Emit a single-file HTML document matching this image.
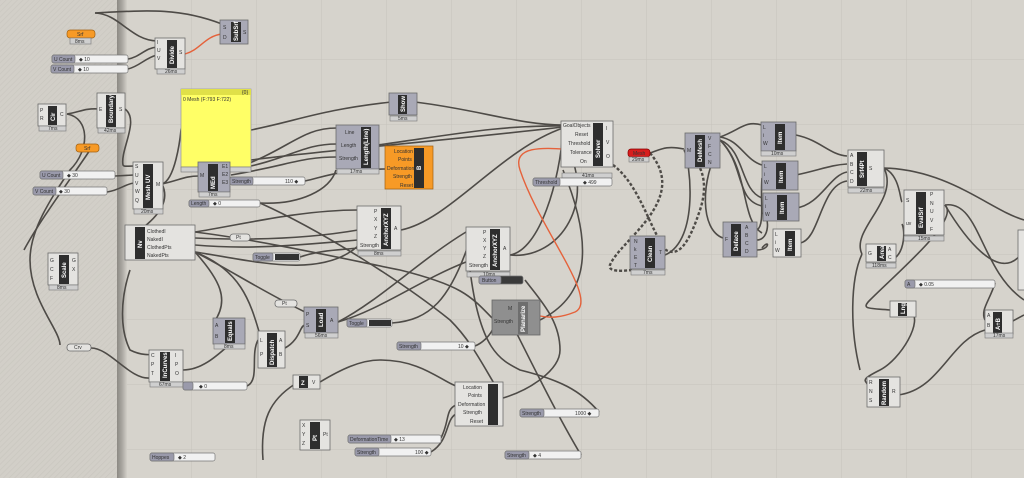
<!DOCTYPE html>
<html><head><meta charset="utf-8"><style>
html,body{margin:0;padding:0;width:1024px;height:478px;overflow:hidden;background:#d6d3cc}
svg{display:block}
text{font-family:"Liberation Sans",sans-serif}
.w{fill:none;stroke:#4e4b47;stroke-width:1.6}
.b{fill:#e4e3e0;stroke:#6b6b6b;stroke-width:.8}
.g{fill:#a9a9b6;stroke:#6b6b6b;stroke-width:.8}
.d{fill:#2e2e2e}
.f{fill:#cfcfcf;stroke:#777;stroke-width:.6}
.t{font-size:5px;fill:#333}
.n{font-size:6px;fill:#fff;font-weight:bold}
.s{fill:#f1f1f1;stroke:#777;stroke-width:.7}
.sl{fill:#9a9aab;stroke:#777;stroke-width:.7}
</style></head><body>
<svg width="1024" height="478" viewBox="0 0 1024 478" xmlns="http://www.w3.org/2000/svg">
<defs>
<pattern id="grid" width="65" height="65" patternUnits="userSpaceOnUse" x="62" y="-5">
<path d="M65 0V65M0 65H65" fill="none" stroke="#c6c3bc" stroke-width="1"/></pattern>
<pattern id="hatch" width="4" height="4" patternUnits="userSpaceOnUse" patternTransform="rotate(45)">
<rect width="4" height="4" fill="#d2cfc8"/><path d="M0 0V4" stroke="#cac7c0" stroke-width="1.5"/></pattern>
<linearGradient id="sh" x1="0" x2="1"><stop offset="0" stop-color="#8c8983"/><stop offset=".5" stop-color="#a9a6a0"/><stop offset="1" stop-color="#d2cfc8"/></linearGradient>
</defs>
<rect width="1024" height="478" fill="url(#grid)"/>
<rect width="119" height="478" fill="url(#hatch)"/>
<rect x="117" width="10" height="478" fill="url(#sh)"/>

<!-- wires -->
<g class="w">
<path d="M95 13C150 10 180 8 222 24"/>
<path d="M95 13C120 14 130 40 157 41"/>
<path d="M128 59C140 57 145 48 157 47"/>
<path d="M128 69C140 66 145 58 157 55"/>
<path d="M67 114C80 112 85 108 99 109"/>
<path d="M67 114C90 118 90 150 70 170C50 200 30 230 30 260C30 300 60 330 60 345"/>
<path d="M125 109C140 120 120 150 123 165C124 167 127 166 134 166"/>
<path d="M115 176L134 175"/>
<path d="M107 192C120 190 125 184 134 183"/>
<path d="M90 150C70 180 40 220 24 250"/>
<path d="M162 184C175 180 180 140 181 130C182 125 185 126 187 126"/>
<path d="M162 184C180 180 185 176 199 176"/>
<path d="M162 184C170 200 160 215 140 230"/>
<path d="M251 130C300 120 320 110 391 102"/>
<path d="M415 102C480 110 520 125 563 125"/>
<path d="M231 170C290 150 300 128 337 128"/>
<path d="M231 170C290 160 300 144 337 144"/>
<path d="M231 175C290 165 300 157 337 157"/>
<path d="M378 145C450 135 500 125 563 126"/>
<path d="M251 160C330 150 450 140 563 127"/>
<path d="M305 181C330 175 340 170 385 169"/>
<path d="M260 203C300 205 330 190 336 170"/>
<path d="M260 203C320 230 400 280 450 320C470 340 480 360 495 385"/>
<path d="M195 232C240 225 300 210 358 210"/>
<path d="M195 238C240 240 300 240 358 230"/>
<path d="M195 245C250 250 300 245 358 240"/>
<path d="M195 252C250 260 320 280 358 246"/>
<path d="M300 257C320 250 340 250 358 248"/>
<path d="M401 230C450 220 500 150 563 128"/>
<path d="M510 255C540 250 560 180 563 130"/>
<path d="M510 255C560 260 600 200 563 140"/>
<path d="M195 232C260 240 350 260 400 270C460 285 470 295 492 318"/>
<path d="M195 252C240 270 250 300 260 335"/>
<path d="M195 252C220 280 230 300 214 322"/>
<path d="M195 252C230 270 260 290 305 312"/>
<path d="M338 322C380 300 420 260 466 232"/>
<path d="M338 322C380 310 420 280 466 262"/>
<path d="M392 323C430 320 450 300 470 240"/>
<path d="M475 346C490 340 500 320 492 318"/>
<path d="M540 320C580 300 600 260 563 170"/>
<path d="M183 355C160 350 150 360 130 350C120 330 120 300 130 270"/>
<path d="M91 348C110 348 130 380 150 378"/>
<path d="M183 370C210 370 230 340 245 333"/>
<path d="M247 386C260 380 250 355 258 340"/>
<path d="M285 348C300 340 300 325 305 325"/>
<path d="M320 382C340 370 360 360 380 360C420 360 440 380 456 386"/>
<path d="M263 460C260 420 270 400 295 384"/>
<path d="M441 438C450 420 445 410 456 405"/>
<path d="M431 452C450 440 445 420 456 414"/>
<path d="M503 398C530 390 560 370 560 350C560 320 540 300 525 280"/>
<path d="M599 412C580 390 560 380 520 370C500 360 480 350 470 270"/>
<path d="M581 455C560 420 540 380 500 300"/>
<path d="M650 153C660 150 665 145 684 149"/>
<path d="M613 165C640 185 650 230 666 250C680 258 690 240 700 210C710 180 700 160 684 150" stroke-dasharray="3 2" stroke-width="2.4"/>
<path d="M650 153C690 200 620 240 610 265C608 270 615 272 632 270" stroke-dasharray="3 2" stroke-width="2.4"/>
<path d="M665 255C700 240 690 160 684 150"/>
<path d="M720 137C740 130 745 120 762 125"/>
<path d="M720 137C740 140 745 160 762 165"/>
<path d="M720 140C745 150 740 190 762 198"/>
<path d="M720 140C750 170 740 220 762 233"/>
<path d="M720 145C700 180 700 230 723 238"/>
<path d="M720 140C745 165 735 200 762 206"/>
<path d="M757 230C765 225 760 200 762 178"/>
<path d="M757 240C770 240 770 215 762 213"/>
<path d="M757 250C770 250 770 238 762 248"/>
<path d="M796 135C820 140 830 155 847 156"/>
<path d="M796 175C820 170 830 165 847 164"/>
<path d="M796 208C820 205 830 175 847 172"/>
<path d="M800 243C820 240 820 185 847 181"/>
<path d="M884 168C900 175 900 200 902 202"/>
<path d="M884 168C950 170 990 210 1024 220"/>
<path d="M884 168C900 200 850 230 862 254"/>
<path d="M895 258C905 250 905 230 902 224"/>
<path d="M945 205C980 200 980 270 1024 300"/>
<path d="M945 205C960 220 900 270 870 300C860 310 870 308 890 310"/>
<path d="M995 283C990 300 980 310 985 320"/>
<path d="M910 310C925 320 900 360 880 370C860 380 865 380 868 385"/>
<path d="M898 395C940 390 950 340 985 330"/>
<path d="M1009 323L1024 315"/>
<path d="M945 205C960 230 1000 290 1024 250"/>
<path d="M862 254C850 280 850 330 860 370"/>
</g>
<path d="M613 150C600 145 590 150 580 150C560 150 510 140 520 170C540 230 600 300 575 312C560 318 550 318 540 316" fill="none" stroke="#e5623b" stroke-width="1.4"/>
<path d="M185 54C200 50 205 36 222 34" fill="none" stroke="#e5623b" stroke-width="1.4"/>

<!-- components -->
<g>
<!-- srf top -->
<rect x="67" y="30" width="28" height="8" rx="3" fill="#f79a26" stroke="#a26010" stroke-width=".7"/><text x="77" y="36" class="t">Srf</text>
<rect x="70" y="38" width="21" height="6" class="f"/><text x="75" y="43" class="t" font-size="4">8ms</text>
<!-- Divide -->
<rect x="155" y="38" width="30" height="31" class="b"/><rect x="167" y="40" width="10" height="28" class="d"/>
<text class="n" transform="translate(174,64)rotate(-90)">Divide</text>
<text x="157" y="44" class="t">I</text><text x="157" y="52" class="t">U</text><text x="157" y="60" class="t">V</text><text x="179" y="54" class="t">S</text>
<rect x="157" y="69" width="28" height="5" class="f"/><text x="165" y="73" class="t" font-size="4">26ms</text>
<!-- SubSrf -->
<rect x="220" y="20" width="28" height="24" class="g"/><rect x="231" y="22" width="10" height="20" class="d"/>
<text class="n" transform="translate(238,41)rotate(-90)">SubSrf</text><text x="223" y="29" class="t">S</text><text x="223" y="39" class="t">D</text><text x="243" y="34" class="t">S</text>
<!-- sliders U/V -->
<rect x="52" y="55" width="76" height="8" rx="2" class="s"/><rect x="52" y="55" width="23" height="8" rx="2" class="sl"/><text x="54" y="61" class="t">U Count</text><text x="79" y="61" class="t">◆ 10</text>
<rect x="51" y="65" width="77" height="8" rx="2" class="s"/><rect x="51" y="65" width="23" height="8" rx="2" class="sl"/><text x="53" y="71" class="t">V Count</text><text x="78" y="71" class="t">◆ 10</text>
<!-- Cir -->
<rect x="38" y="104" width="28" height="22" class="b"/><rect x="48" y="106" width="9" height="19" class="d"/>
<text class="n" transform="translate(55,121)rotate(-90)">Cir</text><text x="40" y="112" class="t">P</text><text x="40" y="120" class="t">R</text><text x="60" y="116" class="t">C</text>
<rect x="39" y="126" width="27" height="5" class="f"/><text x="48" y="130" class="t" font-size="4">7ms</text>
<!-- Boundary -->
<rect x="97" y="93" width="28" height="35" class="b"/><rect x="106" y="95" width="10" height="32" class="d"/>
<text class="n" transform="translate(113,123)rotate(-90)">Boundary</text><text x="99" y="111" class="t">E</text><text x="119" y="111" class="t">S</text>
<rect x="98" y="128" width="27" height="5" class="f"/><text x="104" y="132" class="t" font-size="4">42ms</text>
<!-- Srf 2 -->
<rect x="76" y="144" width="23" height="8" rx="3" fill="#f79a26" stroke="#a26010" stroke-width=".7"/><text x="84" y="150" class="t">Srf</text>
<rect x="40" y="171" width="75" height="8" rx="2" class="s"/><rect x="40" y="171" width="23" height="8" rx="2" class="sl"/><text x="42" y="177" class="t">U Count</text><text x="67" y="177" class="t">◆ 30</text>
<rect x="33" y="187" width="74" height="8" rx="2" class="s"/><rect x="33" y="187" width="23" height="8" rx="2" class="sl"/><text x="35" y="193" class="t">V Count</text><text x="59" y="193" class="t">◆ 30</text>
<!-- Mesh UV -->
<rect x="133" y="162" width="30" height="47" class="b"/><rect x="143" y="164" width="10" height="44" class="d"/>
<text class="n" transform="translate(150,200)rotate(-90)">Mesh UV</text>
<text x="135" y="168" class="t">S</text><text x="135" y="177" class="t">U</text><text x="135" y="185" class="t">V</text><text x="135" y="193" class="t">W</text><text x="135" y="202" class="t">Q</text><text x="156" y="186" class="t">M</text>
<rect x="134" y="209" width="29" height="5" class="f"/><text x="141" y="213" class="t" font-size="4">20ms</text>
<!-- Panel -->
<rect x="181" y="89" width="70" height="78" fill="#ffff66" stroke="#999" stroke-width=".7"/><rect x="181" y="89" width="70" height="6" fill="#e0e048"/>
<text x="242" y="94" class="t" font-size="4">{0}</text><text x="183" y="101" class="t" font-size="4">0 Mesh (F:793 F:722)</text>
<rect x="181" y="167" width="70" height="5" class="f"/>
<!-- Mesh edges -->
<rect x="198" y="162" width="32" height="30" class="g"/><rect x="208" y="164" width="10" height="27" class="d"/>
<text class="n" transform="translate(215,189)rotate(-90)">MEd</text><text x="200" y="177" class="t">M</text><text x="222" y="168" class="t">E1</text><text x="222" y="176" class="t">E2</text><text x="222" y="184" class="t">E3</text>
<rect x="199" y="192" width="31" height="5" class="f"/><text x="208" y="196" class="t" font-size="4">7ms</text>
<rect x="230" y="177" width="75" height="8" rx="2" class="s"/><rect x="230" y="177" width="23" height="8" rx="2" class="sl"/><text x="232" y="183" class="t">Strength</text><text x="285" y="183" class="t">110 ◆</text>
<rect x="189" y="200" width="71" height="7" rx="2" class="s"/><rect x="189" y="200" width="20" height="7" rx="2" class="sl"/><text x="191" y="205" class="t">Length</text><text x="213" y="205" class="t">◆ 0</text>
<!-- Show -->
<rect x="389" y="93" width="28" height="22" class="g"/><rect x="398" y="95" width="9" height="19" class="d"/>
<text class="n" transform="translate(405,112)rotate(-90)">Show</text>
<rect x="390" y="116" width="27" height="5" class="f"/><text x="398" y="120" class="t" font-size="4">5ms</text>
<!-- Length(Line) -->
<rect x="336" y="125" width="43" height="44" class="g"/><rect x="361" y="127" width="10" height="41" class="d"/>
<text class="n" transform="translate(368,165)rotate(-90)">Length(Line)</text>
<text x="345" y="134" class="t">Line</text><text x="341" y="147" class="t">Length</text><text x="339" y="160" class="t">Strength</text>
<rect x="337" y="169" width="42" height="5" class="f"/><text x="350" y="173" class="t" font-size="4">17ms</text>
<!-- orange B -->
<rect x="385" y="146" width="48" height="43" fill="#f79a26" stroke="#a26010" stroke-width=".7"/><rect x="414" y="148" width="10" height="40" class="d"/>
<text class="n" transform="translate(421,170)rotate(-90)">B</text>
<text x="394" y="153" class="t">Location</text><text x="398" y="161" class="t">Points</text><text x="387" y="170" class="t">Deformation</text><text x="393" y="178" class="t">Strength</text><text x="400" y="187" class="t">Reset</text>
<!-- Solver -->
<rect x="561" y="121" width="52" height="46" class="b"/><rect x="593" y="123" width="10" height="43" class="d"/>
<text class="n" transform="translate(600,158)rotate(-90)">Solver</text>
<text x="563" y="127" class="t">GoalObjects</text><text x="575" y="136" class="t">Reset</text><text x="568" y="145" class="t">Threshold</text><text x="570" y="154" class="t">Tolerance</text><text x="580" y="163" class="t">On</text>
<text x="606" y="130" class="t">I</text><text x="606" y="144" class="t">V</text><text x="606" y="158" class="t">O</text>
<rect x="562" y="173" width="50" height="5" class="f"/><text x="582" y="177" class="t" font-size="4">41ms</text>
<rect x="533" y="178" width="79" height="8" rx="2" class="s"/><rect x="533" y="178" width="27" height="8" rx="2" class="sl"/><text x="535" y="184" class="t">Threshold</text><text x="583" y="184" class="t">◆ 499</text>
<!-- red Mesh -->
<rect x="628" y="149" width="22" height="8" rx="3" fill="#d81d1d" stroke="#800" stroke-width=".7"/><text x="633" y="155" class="t" fill="#fdd">Mesh</text>
<rect x="629" y="157" width="20" height="5" class="f"/><text x="632" y="161" class="t" font-size="4">29ms</text>
<!-- Clean -->
<rect x="630" y="236" width="35" height="33" class="g"/><rect x="645" y="238" width="10" height="30" class="d"/>
<text class="n" transform="translate(652,262)rotate(-90)">Clean</text><text x="634" y="243" class="t">N</text><text x="634" y="251" class="t">k</text><text x="634" y="259" class="t">E</text><text x="634" y="267" class="t">T</text><text x="659" y="254" class="t">T</text>
<rect x="631" y="270" width="34" height="5" class="f"/><text x="643" y="274" class="t" font-size="4">7ms</text>
<!-- AnchorXYZ 1 -->
<rect x="357" y="206" width="44" height="44" class="b"/><rect x="381" y="208" width="10" height="41" class="d"/>
<text class="n" transform="translate(388,246)rotate(-90)">AnchorXYZ</text>
<text x="374" y="213" class="t">P</text><text x="374" y="221" class="t">X</text><text x="374" y="230" class="t">Y</text><text x="374" y="238" class="t">Z</text><text x="360" y="247" class="t">Strength</text><text x="394" y="230" class="t">A</text>
<rect x="358" y="251" width="43" height="5" class="f"/><text x="374" y="255" class="t" font-size="4">8ms</text>
<!-- AnchorXYZ 2 -->
<rect x="466" y="227" width="44" height="44" class="b"/><rect x="490" y="229" width="10" height="41" class="d"/>
<text class="n" transform="translate(497,267)rotate(-90)">AnchorXYZ</text>
<text x="483" y="234" class="t">P</text><text x="483" y="242" class="t">X</text><text x="483" y="250" class="t">Y</text><text x="483" y="258" class="t">Z</text><text x="469" y="267" class="t">Strength</text><text x="503" y="250" class="t">A</text>
<rect x="467" y="272" width="43" height="5" class="f"/><text x="483" y="276" class="t" font-size="4">10ms</text>
<rect x="479" y="276" width="44" height="8" rx="2" fill="#3a3a3a" stroke="#777" stroke-width=".7"/><rect x="479" y="276" width="22" height="8" rx="2" class="sl"/><text x="482" y="282" class="t">Button</text>
<!-- Planarize -->
<rect x="492" y="300" width="48" height="35" fill="#8f8f8f" stroke="#666" stroke-width=".8"/><rect x="518" y="302" width="10" height="32" fill="#6e6e6e"/>
<text class="n" transform="translate(525,332)rotate(-90)">Planarize</text><text x="508" y="310" class="t">M</text><text x="494" y="323" class="t">Strength</text>
<!-- Nv -->
<rect x="125" y="225" width="70" height="35" class="b"/><rect x="135" y="227" width="10" height="32" class="d"/>
<text class="n" transform="translate(142,248)rotate(-90)">Nv</text>
<text x="147" y="233" class="t">ClothedI</text><text x="147" y="241" class="t">NakedI</text><text x="147" y="249" class="t">ClothedPts</text><text x="147" y="257" class="t">NakedPts</text>
<rect x="230" y="234" width="20" height="7" rx="3" class="b"/><text x="236" y="239" class="t">Pt</text>
<rect x="253" y="253" width="47" height="8" rx="2" class="s"/><rect x="253" y="253" width="20" height="8" rx="2" class="sl"/><rect x="275" y="254" width="24" height="6" fill="#333"/><text x="255" y="259" class="t">Toggle</text><text x="278" y="259" class="t" fill="#fff">True</text>
<!-- Scale -->
<rect x="48" y="253" width="30" height="32" class="b"/><rect x="59" y="255" width="10" height="29" class="d"/>
<text class="n" transform="translate(66,278)rotate(-90)">Scale</text><text x="50" y="262" class="t">G</text><text x="50" y="271" class="t">C</text><text x="50" y="280" class="t">F</text><text x="72" y="262" class="t">G</text><text x="72" y="271" class="t">X</text>
<rect x="49" y="285" width="29" height="5" class="f"/><text x="57" y="289" class="t" font-size="4">8ms</text>
<rect x="67" y="344" width="24" height="7" rx="3" class="b"/><text x="74" y="349" class="t">Crv</text>
<rect x="275" y="300" width="22" height="7" rx="3" class="b"/><text x="282" y="305" class="t">Pt</text>
<!-- Equals -->
<rect x="213" y="318" width="32" height="26" class="g"/><rect x="225" y="320" width="10" height="23" class="d"/>
<text class="n" transform="translate(232,341)rotate(-90)">Equals</text><text x="215" y="327" class="t">A</text><text x="215" y="338" class="t">B</text>
<rect x="214" y="344" width="31" height="5" class="f"/><text x="224" y="348" class="t" font-size="4">8ms</text>
<!-- Dispatch -->
<rect x="258" y="331" width="27" height="37" class="b"/><rect x="267" y="333" width="10" height="34" class="d"/>
<text class="n" transform="translate(274,365)rotate(-90)">Dispatch</text><text x="260" y="342" class="t">L</text><text x="260" y="356" class="t">P</text><text x="279" y="342" class="t">A</text><text x="279" y="356" class="t">B</text>
<!-- Load -->
<rect x="304" y="307" width="34" height="26" class="g"/><rect x="316" y="309" width="10" height="23" class="d"/>
<text class="n" transform="translate(323,327)rotate(-90)">Load</text><text x="306" y="316" class="t">P</text><text x="306" y="327" class="t">S</text><text x="330" y="322" class="t">A</text>
<rect x="305" y="333" width="33" height="5" class="f"/><text x="315" y="337" class="t" font-size="4">56ms</text>
<rect x="347" y="319" width="45" height="8" rx="2" class="s"/><rect x="347" y="319" width="20" height="8" rx="2" class="sl"/><rect x="369" y="320" width="22" height="6" fill="#333"/><text x="349" y="325" class="t">Toggle</text><text x="372" y="325" class="t" fill="#fff">True</text>
<rect x="397" y="342" width="78" height="8" rx="2" class="s"/><rect x="397" y="342" width="24" height="8" rx="2" class="sl"/><text x="399" y="348" class="t">Strength</text><text x="458" y="348" class="t">10 ◆</text>
<!-- InCurves -->
<rect x="149" y="350" width="34" height="32" class="b"/><rect x="160" y="352" width="10" height="29" class="d"/>
<text class="n" transform="translate(167,378)rotate(-90)">InCurves</text><text x="151" y="357" class="t">C</text><text x="151" y="366" class="t">P</text><text x="151" y="375" class="t">T</text><text x="175" y="357" class="t">I</text><text x="175" y="366" class="t">P</text><text x="175" y="375" class="t">O</text>
<rect x="150" y="382" width="33" height="5" class="f"/><text x="159" y="386" class="t" font-size="4">67ms</text>
<rect x="183" y="382" width="64" height="8" rx="2" class="s"/><rect x="183" y="382" width="10" height="8" rx="2" class="sl"/><text x="199" y="388" class="t">◆ 0</text>
<!-- Z -->
<rect x="293" y="375" width="27" height="14" class="b"/><rect x="299" y="376" width="9" height="12" class="d"/><text class="n" x="301" y="385">Z</text><text x="312" y="384" class="t">V</text>
<!-- Big node -->
<rect x="455" y="382" width="48" height="44" class="b"/><rect x="488" y="384" width="10" height="41" class="d"/>
<text x="463" y="389" class="t">Location</text><text x="468" y="397" class="t">Points</text><text x="458" y="406" class="t">Deformation</text><text x="463" y="414" class="t">Strength</text><text x="470" y="423" class="t">Reset</text>
<rect x="520" y="409" width="79" height="8" rx="2" class="s"/><rect x="520" y="409" width="24" height="8" rx="2" class="sl"/><text x="522" y="415" class="t">Strength</text><text x="575" y="415" class="t">1000 ◆</text>
<!-- Pt -->
<rect x="300" y="420" width="30" height="30" class="b"/><rect x="310" y="422" width="10" height="27" class="d"/><text class="n" transform="translate(317,441)rotate(-90)">Pt</text>
<text x="302" y="427" class="t">X</text><text x="302" y="436" class="t">Y</text><text x="302" y="445" class="t">Z</text><text x="323" y="436" class="t">Pt</text>
<rect x="348" y="435" width="93" height="8" rx="2" class="s"/><rect x="348" y="435" width="43" height="8" rx="2" class="sl"/><text x="350" y="441" class="t">DeformationTime</text><text x="394" y="441" class="t">◆ 13</text>
<rect x="355" y="448" width="76" height="8" rx="2" class="s"/><rect x="355" y="448" width="24" height="8" rx="2" class="sl"/><text x="357" y="454" class="t">Strength</text><text x="415" y="454" class="t">100 ◆</text>
<rect x="150" y="453" width="65" height="8" rx="2" class="s"/><rect x="150" y="453" width="24" height="8" rx="2" class="sl"/><text x="152" y="459" class="t">Hoppes</text><text x="178" y="459" class="t">◆ 2</text>
<rect x="505" y="451" width="76" height="8" rx="2" class="s"/><rect x="505" y="451" width="24" height="8" rx="2" class="sl"/><text x="507" y="457" class="t">Strength</text><text x="533" y="457" class="t">◆ 4</text>
<!-- DeMesh -->
<rect x="685" y="133" width="35" height="35" class="g"/><rect x="695" y="135" width="10" height="32" class="d"/>
<text class="n" transform="translate(702,162)rotate(-90)">DeMesh</text><text x="687" y="152" class="t">M</text><text x="708" y="140" class="t">V</text><text x="708" y="148" class="t">F</text><text x="708" y="156" class="t">C</text><text x="708" y="164" class="t">N</text>
<!-- Items -->
<g>
<rect x="761" y="122" width="35" height="29" class="g"/><rect x="775" y="124" width="10" height="26" class="d"/><text class="n" transform="translate(782,144)rotate(-90)">Item</text><text x="763" y="129" class="t">L</text><text x="763" y="137" class="t">i</text><text x="763" y="145" class="t">W</text>
<rect x="761" y="151" width="35" height="5" class="f"/><text x="771" y="155" class="t" font-size="4">10ms</text>
<rect x="762" y="161" width="36" height="29" class="g"/><rect x="776" y="163" width="10" height="26" class="d"/><text class="n" transform="translate(783,183)rotate(-90)">Item</text><text x="764" y="168" class="t">L</text><text x="764" y="176" class="t">i</text><text x="764" y="184" class="t">W</text>
<rect x="763" y="193" width="36" height="28" class="g"/><rect x="777" y="195" width="10" height="25" class="d"/><text class="n" transform="translate(784,214)rotate(-90)">Item</text><text x="765" y="200" class="t">L</text><text x="765" y="208" class="t">i</text><text x="765" y="216" class="t">W</text>
<rect x="773" y="229" width="28" height="28" class="b"/><rect x="785" y="231" width="10" height="25" class="d"/><text class="n" transform="translate(792,251)rotate(-90)">Item</text><text x="775" y="236" class="t">L</text><text x="775" y="244" class="t">i</text><text x="775" y="252" class="t">W</text>
</g>
<!-- Deface -->
<rect x="723" y="222" width="34" height="35" class="g"/><rect x="731" y="224" width="10" height="32" class="d"/>
<text class="n" transform="translate(738,251)rotate(-90)">Deface</text><text x="725" y="241" class="t">F</text><text x="745" y="229" class="t">A</text><text x="745" y="237" class="t">B</text><text x="745" y="245" class="t">C</text><text x="745" y="253" class="t">D</text>
<!-- SrfPt -->
<rect x="848" y="150" width="36" height="37" class="b"/><rect x="857" y="152" width="10" height="34" class="d"/>
<text class="n" transform="translate(864,178)rotate(-90)">Srf4Pt</text><text x="850" y="157" class="t">A</text><text x="850" y="166" class="t">B</text><text x="850" y="174" class="t">C</text><text x="850" y="183" class="t">D</text><text x="869" y="170" class="t">S</text>
<rect x="848" y="188" width="36" height="5" class="f"/><text x="860" y="192" class="t" font-size="4">22ms</text>
<!-- EvalSrf -->
<rect x="904" y="190" width="40" height="45" class="b"/><rect x="916" y="192" width="10" height="42" class="d"/>
<text class="n" transform="translate(923,228)rotate(-90)">EvalSrf</text><text x="906" y="202" class="t">S</text><text x="906" y="225" class="t">uv</text><text x="930" y="196" class="t">P</text><text x="930" y="205" class="t">N</text><text x="930" y="213" class="t">U</text><text x="930" y="222" class="t">V</text><text x="930" y="231" class="t">F</text>
<rect x="904" y="236" width="40" height="5" class="f"/><text x="918" y="240" class="t" font-size="4">15ms</text>
<!-- Area -->
<rect x="866" y="244" width="30" height="18" class="b"/><rect x="877" y="246" width="9" height="15" class="d"/><text class="n" transform="translate(884,259)rotate(-90)">Area</text><text x="868" y="255" class="t">G</text><text x="888" y="251" class="t">A</text><text x="888" y="259" class="t">C</text>
<rect x="866" y="263" width="30" height="5" class="f"/><text x="872" y="267" class="t" font-size="4">118ms</text>
<!-- slider -->
<rect x="905" y="280" width="90" height="8" rx="2" class="s"/><rect x="905" y="280" width="10" height="8" rx="2" class="sl"/><text x="907" y="286" class="t">A</text><text x="919" y="286" class="t">◆ 0.05</text>
<!-- Lng -->
<rect x="890" y="301" width="26" height="16" class="b"/><rect x="898" y="303" width="9" height="13" class="d"/><text class="n" transform="translate(905,314)rotate(-90)">Lng</text>
<!-- A/B -->
<rect x="985" y="310" width="28" height="24" class="b"/><rect x="993" y="312" width="9" height="21" class="d"/><text class="n" transform="translate(1000,330)rotate(-90)">A÷B</text><text x="987" y="317" class="t">A</text><text x="987" y="327" class="t">B</text>
<rect x="985" y="333" width="28" height="5" class="f"/><text x="993" y="337" class="t" font-size="4">17ms</text>
<!-- Random -->
<rect x="867" y="377" width="33" height="30" class="b"/><rect x="879" y="379" width="10" height="27" class="d"/><text class="n" transform="translate(886,405)rotate(-90)">Random</text><text x="869" y="384" class="t">R</text><text x="869" y="393" class="t">N</text><text x="869" y="402" class="t">S</text><text x="892" y="393" class="t">R</text>
<!-- right edge node -->
<rect x="1018" y="230" width="10" height="60" class="b"/>
</g>
</svg>
</body></html>
